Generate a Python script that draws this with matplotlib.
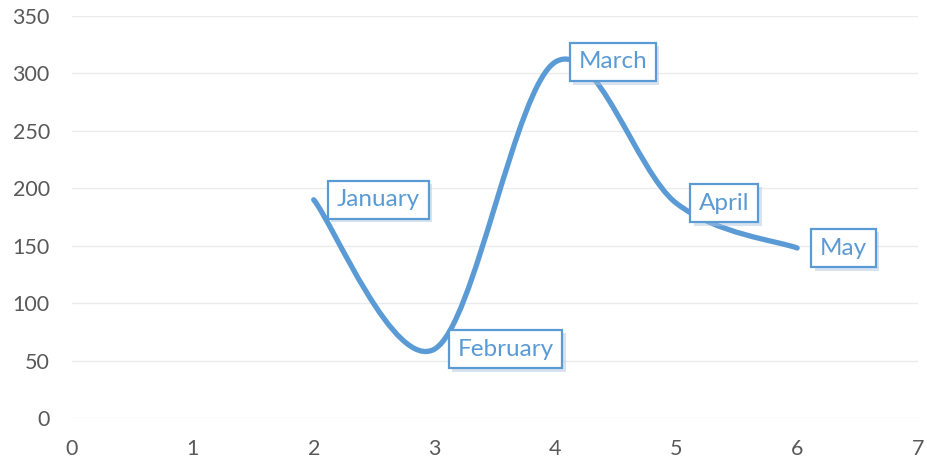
import numpy as np
import matplotlib.pyplot as plt
from matplotlib.path import Path
from matplotlib.patches import PathPatch
import matplotlib.patheffects as pe

# データ
x_vals = [2, 3, 4, 5, 6]
y_vals = [190, 60, 310, 187, 148]
labels = ['January', 'February', 'March', 'April', 'May']

blue = '#5B9BD5'

fig = plt.figure(figsize=(9.27, 4.62), dpi=100)
ax = fig.add_axes([72/927, 44/462, 846/927, 402/462])

# Excel風の平滑線 (Catmull-Rom -> Bezier)
pts = np.column_stack([x_vals, y_vals]).astype(float)
verts = [pts[0]]
codes = [Path.MOVETO]
n = len(pts)
for i in range(n - 1):
    p0 = pts[max(i - 1, 0)]
    p1 = pts[i]
    p2 = pts[i + 1]
    p3 = pts[min(i + 2, n - 1)]
    c1 = p1 + (p2 - p0) / 6
    c2 = p2 - (p3 - p1) / 6
    verts += [c1, c2, p2]
    codes += [Path.CURVE4] * 3
ax.add_patch(PathPatch(Path(verts, codes), facecolor='none', edgecolor=blue,
                       lw=3.8, capstyle='round', joinstyle='round', zorder=3))

for x, y, lab in zip(x_vals, y_vals, labels):
    t = ax.annotate(lab, (x, y), xytext=(16.5, 0), textcoords='offset points',
                    ha='left', va='center', fontsize=17.5, color=blue,
                    family=['Lato', 'DejaVu Sans'], zorder=5,
                    bbox=dict(boxstyle='square,pad=0.36', fc='white', ec=blue, lw=1.6))
    t.get_bbox_patch().set_path_effects([
        pe.SimplePatchShadow(offset=(2.5, -2.5), shadow_rgbFace='#a9c3dd', alpha=0.45),
        pe.Normal()])

ax.set_xlim(0, 7)
ax.set_ylim(0, 350)
ax.set_xticks(range(0, 8))
ax.set_yticks(range(0, 351, 50))
ax.grid(axis='y', color='#EBEBEB', lw=1)
ax.set_axisbelow(True)
for s in ax.spines.values():
    s.set_visible(False)
ax.tick_params(length=0, labelsize=15.5, colors='#595959')
ax.tick_params(axis='x', pad=15)
ax.tick_params(axis='y', pad=16)
for lab in ax.get_xticklabels() + ax.get_yticklabels():
    lab.set_family(['Lato', 'DejaVu Sans'])

fig.savefig('out.png', dpi=100)
